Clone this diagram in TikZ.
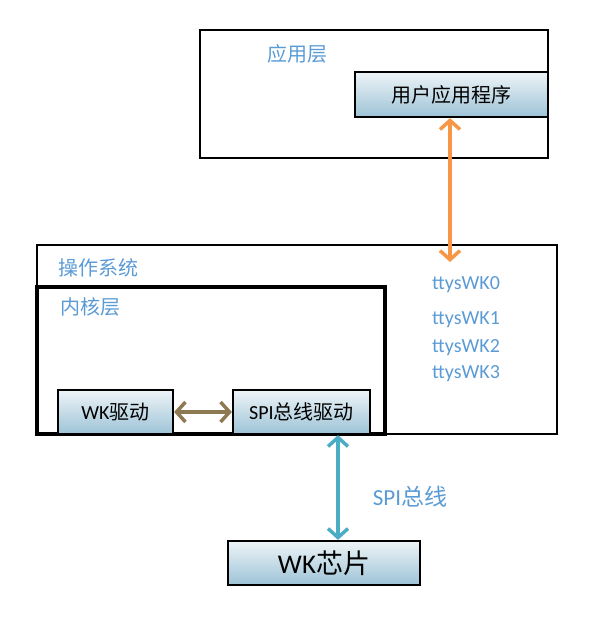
\documentclass[tikz,border=0pt]{standalone}
\usepackage{fontspec}
\setmainfont{Carlito}
\newfontfamily\cjk{Noto Sans CJK SC}
\usetikzlibrary{arrows.meta}
\definecolor{lblue}{HTML}{5B9BD5}
\definecolor{gtop}{HTML}{EEF4F7}
\definecolor{gbot}{HTML}{9DC3D7}
\definecolor{aorange}{HTML}{F79646}
\definecolor{abrown}{HTML}{8E7A52}
\definecolor{ateal}{HTML}{4BACC6}
\tikzset{
  frame/.style={draw=black, line width=2.2pt, inner sep=0pt},
  gbox/.style={draw=black, line width=2.2pt, top color=gtop, bottom color=gbot, inner sep=0pt, font=\fontsize{20}{24}\selectfont},
  lbl/.style={text=lblue, inner sep=0pt, font=\fontsize{20}{24}\selectfont},
  dbl/.style={line width=3.5pt, {Straight Barb[length=9pt,width=20pt,line width=3.5pt]}-{Straight Barb[length=9pt,width=20pt,line width=3.5pt]}}
}
\begin{document}
\begin{tikzpicture}[x=1pt,y=-1pt]
\useasboundingbox (0,0) rectangle (600,623);
% application layer
\node[frame, minimum width=348pt, minimum height=128pt] (applayer) at (374,94) {};
\node[lbl] (applbl) at (297,54) {\cjk 应用层};
\node[gbox, minimum width=193pt, minimum height=45pt] (app) at (451.5,94.5) {\cjk 用户应用程序};
% OS
\node[frame, minimum width=520pt, minimum height=189pt] (os) at (297,339.5) {};
\node[lbl] (oslbl) at (98,268) {\cjk 操作系统};
\node[draw=black, line width=3.2pt, inner sep=0pt, minimum width=348pt, minimum height=147pt] (kernel) at (211,360.5) {};
\node[lbl] (klbl) at (90,307) {\cjk 内核层};
\node[lbl, anchor=west] (t0) at (432,285) {ttysWK0};
\node[lbl, anchor=west] (t1) at (432,320) {ttysWK1};
\node[lbl, anchor=west] (t2) at (432,348) {ttysWK2};
\node[lbl, anchor=west] (t3) at (432,374) {ttysWK3};
\node[gbox, minimum width=115pt, minimum height=44pt] (wkdrv) at (115.5,412) {WK{\cjk 驱动}};
\node[gbox, minimum width=137pt, minimum height=44pt] (spidrv) at (301.5,412) {SPI{\cjk 总线驱动}};
% chip
\node[gbox, minimum width=192pt, minimum height=44pt, font=\fontsize{27}{32}\selectfont] (chip) at (324,563) {WK{\cjk 芯片}};
\node[lbl, font=\fontsize{23}{28}\selectfont] (spilbl) at (410,497) {SPI{\cjk 总线}};
% arrows
\coordinate (ttyend) at (450,262);
\draw[dbl, aorange] (app.south -| ttyend) -- (ttyend);
\draw[dbl, abrown] (wkdrv.east) -- (spidrv.west);
\coordinate (bx) at (338,0);
\draw[dbl, ateal] (spidrv.south -| bx) -- (chip.north -| bx);
\end{tikzpicture}
\end{document}
